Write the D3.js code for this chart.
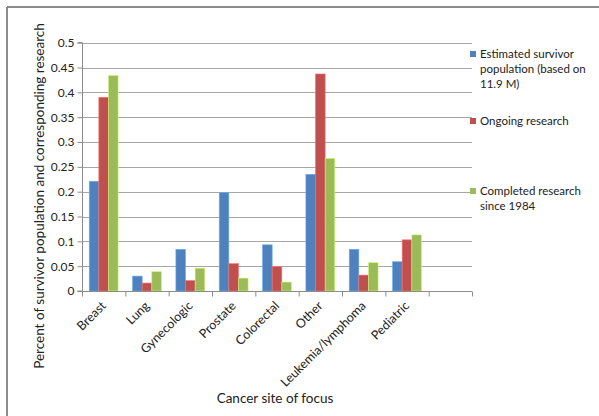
<!DOCTYPE html>
<html>
<head>
<meta charset="utf-8">
<script src="https://d3js.org/d3.v7.min.js"></script>
<style>
body { margin: 0; background: #fff; }
text { font-family: Lato, "Open Sans", sans-serif; fill: #222; }
</style>
</head>
<body>
<script>
// chart data
var sites = ["Breast", "Lung", "Gynecologic", "Prostate", "Colorectal", "Other", "Leukemia/lymphoma", "Pediatric", ""];
var seriesNames = ["Estimated survivor population (based on 11.9 M)", "Ongoing research", "Completed research since 1984"];
var survivors = [0.221, 0.030, 0.084, 0.198, 0.093, 0.235, 0.084, 0.059];
var ongoing   = [0.390, 0.016, 0.021, 0.055, 0.049, 0.437, 0.032, 0.103];
var completed = [0.434, 0.039, 0.046, 0.026, 0.018, 0.267, 0.057, 0.113];
var yTicks = [0, 0.05, 0.1, 0.15, 0.2, 0.25, 0.3, 0.35, 0.4, 0.45, 0.5];
var colors = ["#4F81BD", "#C0504D", "#9BBB59"];

var svg = d3.select("body").append("svg")
    .attr("width", 599)
    .attr("height", 416);

// frame of the chart area (only top and left edges are in view)
svg.append("line").attr("x1", 7).attr("x2", 599).attr("y1", 7).attr("y2", 7)
   .attr("stroke", "#8c8c8c").attr("stroke-width", 2);
svg.append("line").attr("x1", 7).attr("x2", 7).attr("y1", 7).attr("y2", 416)
   .attr("stroke", "#8c8c8c").attr("stroke-width", 2);

var plotLeft = 82, plotRight = 472, plotTop = 42.7, plotBottom = 291;

var x = d3.scaleBand().domain(sites).range([plotLeft, plotRight]).paddingInner(0).paddingOuter(0);
var sub = d3.scaleBand().domain([0, 1, 2]).range([0, x.bandwidth()]).paddingOuter(0.75).paddingInner(0);
var y = d3.scaleLinear().domain([0, 0.5]).range([plotBottom, plotTop]);

// gridlines
svg.append("g").selectAll("line").data(yTicks.slice(1)).enter().append("line")
   .attr("x1", plotLeft).attr("x2", plotRight)
   .attr("y1", function(d) { return Math.round(y(d)) + 0.5; })
   .attr("y2", function(d) { return Math.round(y(d)) + 0.5; })
   .attr("stroke", "#a6a6a6").attr("stroke-width", 1);

// bars
var all = [survivors, ongoing, completed];
all.forEach(function(vals, s) {
  svg.append("g").selectAll("rect").data(vals).enter().append("rect")
     .attr("x", function(d, i) { return x(sites[i]) + sub(s); })
     .attr("y", function(d) { return y(d); })
     .attr("width", sub.bandwidth())
     .attr("height", function(d) { return y(0) - y(d); })
     .attr("fill", colors[s])
     .attr("stroke", d3.color(colors[s]).brighter(0.8))
     .attr("stroke-width", 0.6);
});

// y axis
var yAxis = d3.axisLeft(y).tickValues(yTicks).tickSize(5).tickPadding(3)
    .tickFormat(function(d) { return String(+d.toFixed(2)); });
var yg = svg.append("g").attr("transform", "translate(" + (plotLeft + 0.5) + ",0)").call(yAxis);
yg.select(".domain").attr("stroke", "#8c8c8c").attr("d", "M-5," + plotTop + "H0V" + plotBottom + "H-5");
yg.selectAll(".tick line").attr("stroke", "#8c8c8c");
yg.selectAll(".tick text").style("font-size", "12px").attr("fill", "#222");

// x axis
var xb = svg.append("g").attr("transform", "translate(0," + (Math.round(plotBottom) + 0.5) + ")");
xb.append("line").attr("x1", plotLeft).attr("x2", plotRight).attr("stroke", "#8c8c8c");
xb.selectAll(".tk").data(sites.concat(["end"])).enter().append("line")
  .attr("x1", function(d, i) { return plotLeft + i * x.step() + 0.5; })
  .attr("x2", function(d, i) { return plotLeft + i * x.step() + 0.5; })
  .attr("y1", 0).attr("y2", 5)
  .attr("stroke", "#8c8c8c");
xb.selectAll(".lbl").data(sites).enter().append("text")
  .attr("transform", function(d) {
    return "translate(" + (x(d) + x.bandwidth() / 2) + ",12) rotate(-45)";
  })
  .attr("text-anchor", "end")
  .attr("dy", "0.35em")
  .style("font-size", "12.5px")
  .text(function(d) { return d; });

// axis titles
svg.append("text")
   .attr("transform", "translate(44," + 196 + ") rotate(-90)")
   .attr("text-anchor", "middle")
   .style("font-size", "13.5px")
   .text("Percent of survivor population and corresponding research");
svg.append("text")
   .attr("x", 275).attr("y", 403)
   .attr("text-anchor", "middle")
   .style("font-size", "13.5px")
   .text("Cancer site of focus");

// legend
var legendLines = [["Estimated survivor", "population (based on", "11.9 M)"], ["Ongoing research"], ["Completed research", "since 1984"]];
var legendY = [54, 121, 191];
legendLines.forEach(function(lines, s) {
  svg.append("rect").attr("x", 470).attr("y", legendY[s] - 3).attr("width", 6).attr("height", 6)
     .attr("fill", colors[s]);
  lines.forEach(function(t, j) {
    svg.append("text").attr("x", 480).attr("y", legendY[s] + j * 15)
       .attr("dy", "0.35em").style("font-size", "11.5px").text(t);
  });
});
</script>
</body>
</html>
